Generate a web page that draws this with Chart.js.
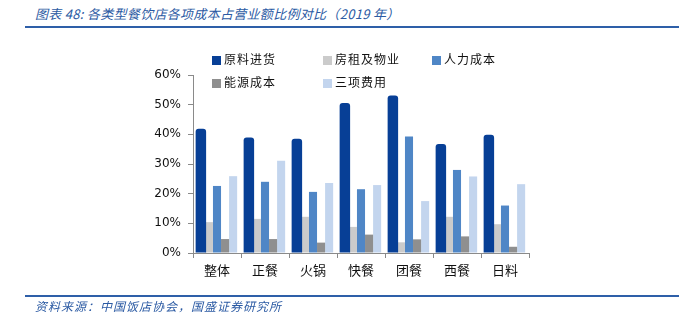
<!DOCTYPE html>
<html>
<head>
<meta charset="utf-8">
<script src="https://cdn.jsdelivr.net/npm/chart.js@4"></script>
<style>
  body { margin: 0; background: #fff; }
  #wrap { position: relative; width: 679px; height: 327px; overflow: hidden; }
  #chart { position: absolute; left: 0; top: 0; }
  .title, .source {
    position: absolute; left: 35px; font-family: "Noto Sans CJK SC", sans-serif;
    font-style: italic; color: #2b5aa3; white-space: nowrap;
  }
  .title { top: 4px; font-size: 13px; letter-spacing: 0.3px; }
  .source { top: 297px; font-size: 12px; letter-spacing: 1px; }
  .rule { position: absolute; left: 25px; right: 0; height: 2px; background: #2e5fa8; }
  .legend-item {
    position: absolute; font-family: "Noto Sans CJK SC", sans-serif; font-size: 12px;
    color: #111; white-space: nowrap; line-height: 16px; letter-spacing: 1px;
  }
  .legend-item span { display: inline-block; width: 9px; height: 9px; margin-right: 3px; vertical-align: -1px; }
</style>
</head>
<body>
<div id="wrap">
  <div class="title">图表 48:  各类型餐饮店各项成本占营业额比例对比（2019 年）</div>
  <div class="rule" style="top:26px"></div>
  <canvas id="chart" width="679" height="327"></canvas>
  <div id="legend"></div>
  <div class="rule" style="top:295px"></div>
  <div class="source">资料来源：中国饭店协会，国盛证券研究所</div>
</div>
<script>
const categories = ['整体', '正餐', '火锅', '快餐', '团餐', '西餐', '日料'];
const seriesNames = ['原料进货', '房租及物业', '人力成本', '能源成本', '三项费用'];
const rawMaterial = [41.9, 38.9, 38.5, 50.6, 53.1, 36.7, 39.9];
const rentProperty = [10.4, 11.5, 12.2, 8.8, 3.6, 12.2, 9.7];
const labour = [22.6, 24.0, 20.6, 21.5, 39.3, 28.0, 16.0];
const energy = [4.7, 4.7, 3.5, 6.2, 4.6, 5.6, 2.1];
const threeFees = [25.9, 31.1, 23.6, 22.9, 17.5, 25.8, 23.2];
const yTicks = [0, 10, 20, 30, 40, 50, 60];

const colors = ['#073f96', '#cbcbcb', '#4f86c6', '#8f8f8f', '#c3d5ee'];
const seriesValues = [rawMaterial, rentProperty, labour, energy, threeFees];

const datasets = seriesValues.map((vals, i) => ({
    label: seriesNames[i],
    data: vals,
    backgroundColor: colors[i],
    borderWidth: 0,
    barPercentage: i === 0 ? 1.3 : 1.0,
    borderRadius: i === 0 ? { topLeft: 3, topRight: 3 } : 0,
    borderSkipped: 'bottom'
}));

const ctx = document.getElementById('chart').getContext('2d');
new Chart(ctx, {
    type: 'bar',
    data: { labels: categories, datasets: datasets },
    options: {
        responsive: false,
        animation: false,
        layout: { padding: { left: 0, right: 150, top: 75, bottom: 44 } },
        plugins: { legend: { display: false }, tooltip: { enabled: false } },
        datasets: { bar: { categoryPercentage: 0.84 } },
        scales: {
            x: {
                grid: { display: true, drawOnChartArea: false, drawTicks: true, tickLength: 5, color: '#8a8a8a' },
                border: { display: true, color: '#8a8a8a' },
                ticks: { color: '#111', font: { family: '"Noto Sans CJK SC"', size: 13 }, padding: 4 },
                afterFit: s => { s.height = 30; }
            },
            y: {
                min: 0, max: 60,
                afterBuildTicks: s => { s.ticks = yTicks.map(v => ({ value: v })); },
                grid: { display: true, drawOnChartArea: false, drawTicks: true, tickLength: 5, color: '#8a8a8a' },
                border: { display: true, color: '#8a8a8a' },
                ticks: {
                    color: '#111', padding: 7,
                    font: { family: '"DejaVu Sans"', size: 12 },
                    callback: v => v + '%'
                },
                afterFit: s => { s.width = 193; }
            }
        }
    }
});

// legend laid over the top of the plot, three per row
const legendPos = [[212, 51], [323, 51], [432, 51], [212, 74], [323, 74]];
const legend = document.getElementById('legend');
seriesNames.forEach((name, i) => {
    const el = document.createElement('div');
    el.className = 'legend-item';
    el.style.left = legendPos[i][0] + 'px';
    el.style.top = legendPos[i][1] + 'px';
    el.innerHTML = '<span style="background:' + colors[i] + '"></span>' + name;
    legend.appendChild(el);
});
</script>
</body>
</html>
